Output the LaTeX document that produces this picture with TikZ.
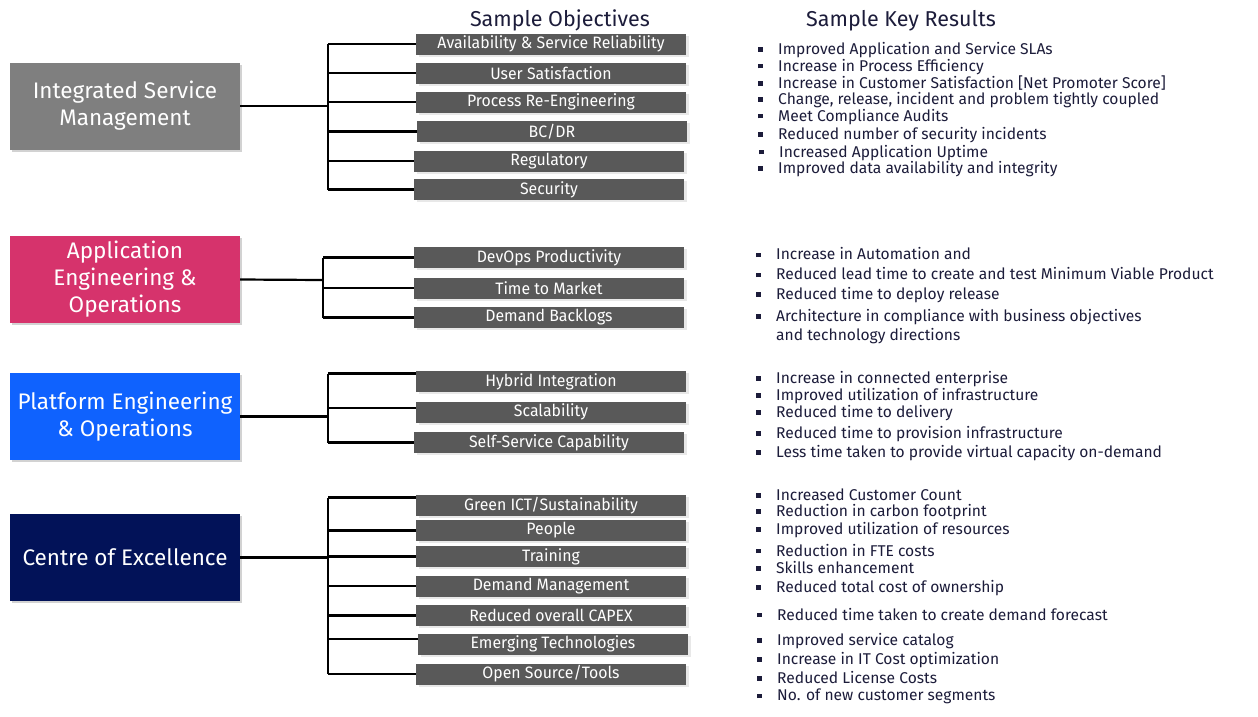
\documentclass[tikz,border=0pt]{standalone}
\usepackage{fontspec}
\setmainfont{Fira Sans}
\newfontfamily\condfont[FakeStretch=0.96]{Fira Sans}
\usetikzlibrary{shadows,calc}

\definecolor{ismgray}{HTML}{7F7F7F}
\definecolor{aeopink}{HTML}{D6336C}
\definecolor{peoblue}{HTML}{0F62FE}
\definecolor{coenavy}{HTML}{021258}
\definecolor{objgray}{HTML}{595959}
\definecolor{inktext}{HTML}{1C1C3A}

% square bullet followed by the indent of the key-result text
\newcommand\krbul{\makebox[20pt][l]{\raisebox{0.35ex}{\rule{4.5pt}{4.5pt}}}}
% one key result: name, x, y, text
\newcommand\keyres[4]{\node[keyres] (#1) at (#2,#3) {\krbul#4};}

\begin{document}
\begin{tikzpicture}[x=1pt,y=-1pt,
  pillar/.style={minimum width=230pt, minimum height=87pt, inner sep=2pt,
    text=white, align=center, font=\fontsize{22.5}{27}\selectfont,
    drop shadow={shadow xshift=2pt, shadow yshift=-2pt, opacity=0.35}},
  objbox/.style={fill=objgray, text=white, minimum width=270pt,
    minimum height=21pt, inner sep=0pt,
    font=\condfont\fontsize{16.5}{18}\selectfont,
    drop shadow={shadow xshift=3pt, shadow yshift=-2pt, opacity=0.18}},
  keyres/.style={anchor=west, inner sep=0pt, text=inktext, align=left,
    font=\fontsize{15.6}{19}\selectfont},
  heading/.style={text=inktext, font=\fontsize{21.5}{25}\selectfont, inner sep=0pt},
  link/.style={line width=2.2pt, black}]

\useasboundingbox (0,0) rectangle (1258,716);
\fill[white] (0,0) rectangle (1258,716);

% column headings
\node[heading] (hobj) at (560,20) {Sample Objectives};
\node[heading] (hkr) at (901,21) {Sample Key Results};

% focus areas
\node[pillar, fill=ismgray] (ism) at (125,106) {Integrated Service\\Management};
\node[pillar, fill=aeopink] (aeo) at (125,279.5) {Application\\Engineering \&\\Operations};
\node[pillar, fill=peoblue] (peo) at (125,416.5) {Platform Engineering\\\& Operations};
\node[pillar, fill=coenavy] (coe) at (125,557.5) {Centre of Excellence};

% objectives
\node[objbox] (o11) at (551,44)    {Availability \& Service Reliability};
\node[objbox] (o12) at (551,73)    {User Satisfaction};
\node[objbox] (o13) at (551,102)   {Process Re-Engineering};
\node[objbox] (o14) at (552,131.5) {BC/DR};
\node[objbox] (o15) at (549,161)   {Regulatory};
\node[objbox] (o16) at (549,189.5) {Security};

\node[objbox] (o21) at (549,257.5) {DevOps Productivity};
\node[objbox] (o22) at (549,288)   {Time to Market};
\node[objbox] (o23) at (549,317.5) {Demand Backlogs};

\node[objbox] (o31) at (551,381.5) {Hybrid Integration};
\node[objbox] (o32) at (551,412)   {Scalability};
\node[objbox] (o33) at (549,442.5) {Self-Service Capability};

\node[objbox] (o41) at (551,505.5) {Green ICT/Sustainability};
\node[objbox] (o42) at (551,530.5) {People};
\node[objbox] (o43) at (551,556.5) {Training};
\node[objbox] (o44) at (551,586)   {Demand Management};
\node[objbox] (o45) at (551,615.5) {Reduced overall CAPEX};
\node[objbox] (o46) at (553,644)   {Emerging Technologies};
\node[objbox] (o47) at (551,674)   {Open Source/Tools};

% bracket spines
\coordinate (s1) at (328,106);
\coordinate (s2) at (323,280);
\coordinate (s3) at (328,416.5);
\coordinate (s4) at (328,557.5);

% bracket: Integrated Service Management
\draw[link] (ism.east) -- (s1);
\draw[link] (s1 |- o11.west) -- (s1 |- o16.west);
\foreach \o in {o11,o12,o13,o14,o15,o16}
  \draw[link] (s1 |- \o.west) -- (\o.west);

% bracket: Application Engineering & Operations
\draw[link] (aeo.east) -- (s2);
\draw[link] (s2 |- o21.west) -- (s2 |- o23.west);
\foreach \o in {o21,o22,o23}
  \draw[link] (s2 |- \o.west) -- (\o.west);

% bracket: Platform Engineering & Operations
\coordinate (b31) at ($(o31.west)+(0,-8)$);
\coordinate (b32) at ($(o32.west)+(0,-4)$);
\draw[link] (peo.east) -- (s3);
\draw[link] (s3 |- b31) -- (s3 |- o33.west);
\draw[link] (s3 |- b31) -- (b31);
\draw[link] (s3 |- b32) -- (b32);
\draw[link] (s3 |- o33.west) -- (o33.west);

% bracket: Centre of Excellence
\coordinate (b41) at ($(o41.west)+(0,-8)$);
\coordinate (b46) at ($(o46.west)+(0,-5)$);
\draw[link] (coe.east) -- (s4);
\draw[link] (s4 |- b41) -- (s4 |- o47.west);
\draw[link] (s4 |- b41) -- (b41);
\foreach \o in {o42,o43,o44,o45,o47}
  \draw[link] (s4 |- \o.west) -- (\o.west);
\draw[link] (s4 |- b46) -- (b46);

% key results
\keyres{k11}{758}{50}{Improved Application and Service SLAs}
\keyres{k12}{758}{66.7}{Increase in Process Efficiency}
\keyres{k13}{758}{83.3}{Increase in Customer Satisfaction [Net Promoter Score]}
\keyres{k14}{758}{100}{Change, release, incident and problem tightly coupled}
\keyres{k15}{758}{116.7}{Meet Compliance Audits}
\keyres{k16}{758}{135}{Reduced number of security incidents}
\keyres{k17}{759}{152.7}{Increased Application Uptime}
\keyres{k18}{758}{169.3}{Improved data availability and integrity}

\keyres{k21}{756}{254}{Increase in Automation and}
\keyres{k22}{756}{274}{Reduced lead time to create and test Minimum Viable Product}
\keyres{k23}{756}{295}{Reduced time to deploy release}
\keyres{k24}{756}{326.5}{Architecture in compliance with business objectives\\\hspace*{20pt}and technology directions}

\keyres{k31}{756}{379}{Increase in connected enterprise}
\keyres{k32}{756}{396}{Improved utilization of infrastructure}
\keyres{k33}{756}{413}{Reduced time to delivery}
\keyres{k34}{756}{434}{Reduced time to provision infrastructure}
\keyres{k35}{756}{453}{Less time taken to provide virtual capacity on-demand}

% the first two lines sit tightly; the upper one carries no descender room
\node[keyres, text depth=0pt] (k41) at (756,495) {\krbul Increased Customer Count};
\keyres{k42}{756}{512}{Reduction in carbon footprint}
\keyres{k43}{756}{530}{Improved utilization of resources}
\keyres{k44}{756}{550}{Reduction in FTE costs}
\keyres{k45}{756}{567.7}{Skills enhancement}
\keyres{k46}{756}{588.3}{Reduced total cost of ownership}
\keyres{k47}{757}{614}{Reduced time taken to create demand forecast}
\keyres{k48}{757}{641}{Improved service catalog}
\keyres{k49}{757}{660}{Increase in IT Cost optimization}
\keyres{k4a}{757}{677.7}{Reduced License Costs}
\keyres{k4b}{757}{696.7}{No. of new customer segments}

\end{tikzpicture}
\end{document}
